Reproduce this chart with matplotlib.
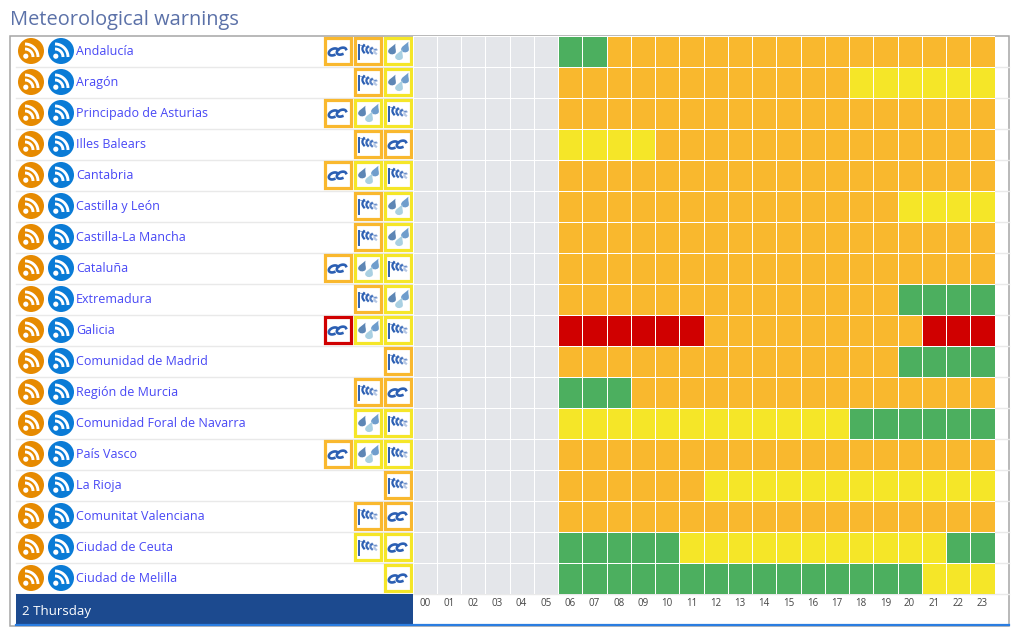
import matplotlib
matplotlib.use('Agg')
import matplotlib.pyplot as plt
from matplotlib.colors import ListedColormap, BoundaryNorm
from matplotlib.patches import Circle, Rectangle, PathPatch
from matplotlib.path import Path
import numpy as np

plt.rcParams['font.family'] = ['Open Sans', 'DejaVu Sans']

title = 'Meteorological warnings'
day_label = '2 Thursday'
hours = ['%02d' % h for h in range(24)]
regions = ['Andalucía', 'Aragón', 'Principado de Asturias', 'Illes Balears', 'Cantabria',
           'Castilla y León', 'Castilla-La Mancha', 'Cataluña', 'Extremadura', 'Galicia',
           'Comunidad de Madrid', 'Región de Murcia', 'Comunidad Foral de Navarra', 'País Vasco',
           'La Rioja', 'Comunitat Valenciana', 'Ciudad de Ceuta', 'Ciudad de Melilla']

# 0 past, 1 green, 2 yellow, 3 orange, 4 red
levels = [
    [0, 0, 0, 0, 0, 0, 1, 1, 3, 3, 3, 3, 3, 3, 3, 3, 3, 3, 3, 3, 3, 3, 3, 3],
    [0, 0, 0, 0, 0, 0, 3, 3, 3, 3, 3, 3, 3, 3, 3, 3, 3, 3, 2, 2, 2, 2, 2, 2],
    [0, 0, 0, 0, 0, 0, 3, 3, 3, 3, 3, 3, 3, 3, 3, 3, 3, 3, 3, 3, 3, 3, 3, 3],
    [0, 0, 0, 0, 0, 0, 2, 2, 2, 2, 3, 3, 3, 3, 3, 3, 3, 3, 3, 3, 3, 3, 3, 3],
    [0, 0, 0, 0, 0, 0, 3, 3, 3, 3, 3, 3, 3, 3, 3, 3, 3, 3, 3, 3, 3, 3, 3, 3],
    [0, 0, 0, 0, 0, 0, 3, 3, 3, 3, 3, 3, 3, 3, 3, 3, 3, 3, 3, 3, 2, 2, 2, 2],
    [0, 0, 0, 0, 0, 0, 3, 3, 3, 3, 3, 3, 3, 3, 3, 3, 3, 3, 3, 3, 3, 3, 3, 3],
    [0, 0, 0, 0, 0, 0, 3, 3, 3, 3, 3, 3, 3, 3, 3, 3, 3, 3, 3, 3, 3, 3, 3, 3],
    [0, 0, 0, 0, 0, 0, 3, 3, 3, 3, 3, 3, 3, 3, 3, 3, 3, 3, 3, 3, 1, 1, 1, 1],
    [0, 0, 0, 0, 0, 0, 4, 4, 4, 4, 4, 4, 3, 3, 3, 3, 3, 3, 3, 3, 3, 4, 4, 4],
    [0, 0, 0, 0, 0, 0, 3, 3, 3, 3, 3, 3, 3, 3, 3, 3, 3, 3, 3, 3, 1, 1, 1, 1],
    [0, 0, 0, 0, 0, 0, 1, 1, 1, 3, 3, 3, 3, 3, 3, 3, 3, 3, 3, 3, 3, 3, 3, 3],
    [0, 0, 0, 0, 0, 0, 2, 2, 2, 2, 2, 2, 2, 2, 2, 2, 2, 2, 1, 1, 1, 1, 1, 1],
    [0, 0, 0, 0, 0, 0, 3, 3, 3, 3, 3, 3, 3, 3, 3, 3, 3, 3, 3, 3, 3, 3, 3, 3],
    [0, 0, 0, 0, 0, 0, 3, 3, 3, 3, 3, 3, 2, 2, 2, 2, 2, 2, 2, 2, 2, 2, 2, 2],
    [0, 0, 0, 0, 0, 0, 3, 3, 3, 3, 3, 3, 3, 3, 3, 3, 3, 3, 3, 3, 3, 3, 3, 3],
    [0, 0, 0, 0, 0, 0, 1, 1, 1, 1, 1, 2, 2, 2, 2, 2, 2, 2, 2, 2, 2, 2, 1, 1],
    [0, 0, 0, 0, 0, 0, 1, 1, 1, 1, 1, 1, 1, 1, 1, 1, 1, 1, 1, 1, 1, 2, 2, 2],
]

# warning boxes of each region, left to right: kind + level
warnings = [
    [('wave', 3), ('wind', 3), ('rain', 2)],
    [('wind', 3), ('rain', 2)],
    [('wave', 3), ('rain', 2), ('wind', 2)],
    [('wind', 3), ('wave', 3)],
    [('wave', 3), ('rain', 2), ('wind', 2)],
    [('wind', 3), ('rain', 2)],
    [('wind', 3), ('rain', 2)],
    [('wave', 3), ('rain', 2), ('wind', 2)],
    [('wind', 3), ('rain', 2)],
    [('wave', 4), ('rain', 2), ('wind', 2)],
    [('wind', 3)],
    [('wind', 3), ('wave', 3)],
    [('rain', 2), ('wind', 2)],
    [('wave', 3), ('rain', 2), ('wind', 2)],
    [('wind', 3)],
    [('wind', 3), ('wave', 3)],
    [('wind', 2), ('wave', 2)],
    [('wave', 2)],
]

level_colors = ['#e4e6ea', '#4caf5f', '#f5e628', '#f9b82e', '#d00000']
icon_blue = '#2b5fb3'

W, H = 1015, 636
top, row_h = 35.5, 31
bottom = top + row_h * len(regions)
heat_left, heat_right = 412.5, 994.5


def rss(ax, cx, cy, color):
    ax.add_patch(Circle((cx, cy), 13, fc=color, ec='none', zorder=3))
    ox, oy = cx - 6, cy + 6
    ax.add_patch(Circle((ox + 0.8, oy - 0.8), 2.6, fc='white', ec='none', zorder=4))
    t = np.linspace(0, np.pi / 2, 20)
    for r in (8, 13):
        ax.plot(ox + r * np.sin(t), oy - r * np.cos(t), color='white', lw=2.1,
                solid_capstyle='butt', zorder=4)


def wave(ax, cx, cy):
    # two linked "c" shapes, slanted
    t = np.radians(np.linspace(35, 300, 40))
    for dx in (-4.5, 3.5):
        x = 4.4 * np.cos(t)
        y = -3.5 * np.sin(t)
        ax.plot(cx + dx + x - 0.45 * y, cy + y + 0.5 - 0.1 * dx, color=icon_blue, lw=1.9, zorder=4)


def wind(ax, cx, cy):
    ax.plot([cx - 8.5, cx - 8.5], [cy - 6, cy + 8], color=icon_blue, lw=1.4, zorder=4)
    ax.plot([cx - 8.5, cx + 9], [cy - 6, cy - 1], color=icon_blue, lw=0.7, alpha=0.6, zorder=4)
    s = np.linspace(-1, 1, 12)
    for i, (dx, alpha) in enumerate(zip((-4, 0, 4, 8), (1, 0.95, 0.8, 0.35))):
        half = 3.6 - 0.5 * i
        mid = -2.2 + 0.9 * i
        ax.plot(cx + dx - 1.6 * (1 - s ** 2), cy + mid + half * s, color=icon_blue,
                lw=1.6, alpha=alpha, zorder=4)


def drop(ax, cx, cy, size, color):
    verts = [(0.75, -1.35), (0.55, -0.5), (1.0, 0.1), (0.75, 0.6),
             (0.35, 1.1), (-0.6, 1.05), (-0.8, 0.4),
             (-1.0, -0.25), (0.2, -0.8), (0.75, -1.35)]
    codes = [Path.MOVETO] + [Path.CURVE4] * 9
    pts = [(cx + size * vx, cy + size * vy) for vx, vy in verts]
    ax.add_patch(PathPatch(Path(pts, codes), fc=color, ec='none', zorder=4))


def rain(ax, cx, cy):
    drop(ax, cx - 6, cy - 1, 4.7, '#5d86b5')
    drop(ax, cx + 7, cy - 3, 4.7, '#6f9dcc')
    drop(ax, cx + 1, cy + 4.7, 4.7, '#a9d0e2')


icons = {'wave': wave, 'wind': wind, 'rain': rain}

fig = plt.figure(figsize=(W / 100, H / 100), dpi=100)
ax = fig.add_axes([0, 0, 1, 1])
ax.set_xlim(0, W)
ax.set_ylim(H, 0)
ax.axis('off')

# outer frame and header
ax.add_patch(Rectangle((10.5, 35.5), 998.5, 590.5, fc='white', ec='#a6a6a6', lw=1.1, zorder=0))
ax.text(10, 20, title, fontsize=14.4, color='#5b71a8', va='center', ha='left')

for i, name in enumerate(regions):
    cy = top + row_h * (i + 0.5)
    ax.plot([16, 1009], [top + row_h * (i + 1)] * 2, color='#e9e9e9', lw=1, zorder=1)
    rss(ax, 31, cy, '#e68a00')
    rss(ax, 61, cy, '#0a7bd6')
    ax.text(76, cy + 0.6, name, fontsize=9, color='#4848f5', va='center', ha='left', zorder=4)
    boxes = warnings[i]
    for j, (kind, level) in enumerate(boxes):
        bx = 398 - 30 * (len(boxes) - 1 - j)
        ax.add_patch(Rectangle((bx - 13, cy - 13), 26, 26, fc='white', ec=level_colors[level],
                               lw=2.3, zorder=3))
        icons[kind](ax, bx, cy)

# day band
ax.add_patch(Rectangle((16, bottom), 397, 30.5, fc='#1c4a8f', ec='none', zorder=2))
ax.plot([16, 1009], [625, 625], color='#2a7de1', lw=1.6, zorder=3)
ax.text(22, 612, day_label, fontsize=9.5, color='white', va='center', ha='left', zorder=4)

# hourly grid on its own axes
heat = fig.add_axes([heat_left / W, 1 - bottom / H, (heat_right - heat_left) / W,
                     (bottom - top) / H])
cmap = ListedColormap(level_colors)
norm = BoundaryNorm(np.arange(-0.5, 5.5), cmap.N)
heat.pcolormesh(np.arange(25), np.arange(len(regions) + 1), np.array(levels), cmap=cmap, norm=norm,
                edgecolors='white', linewidth=0.6)
heat.set_ylim(len(regions), 0)
heat.set_xlim(0, 24)
heat.set_xticks(np.arange(24) + 0.5)
heat.set_xticklabels(hours, fontsize=7, color='#444444')
heat.set_yticks([])
heat.tick_params(axis='x', length=0, pad=3.2)
for s in heat.spines.values():
    s.set_visible(False)

fig.savefig('out.png', dpi=100)
